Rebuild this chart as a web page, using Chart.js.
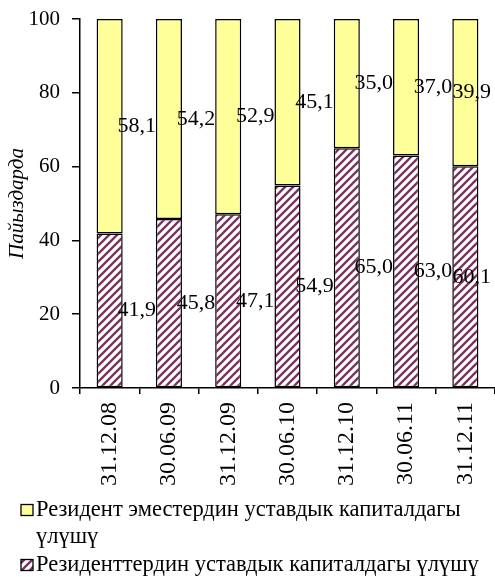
<!DOCTYPE html>
<html>
<head>
<meta charset="utf-8">
<script src="https://cdn.jsdelivr.net/npm/chart.js@4.4.1/dist/chart.umd.min.js"></script>
<style>
  html,body{margin:0;padding:0;background:#fff;}
  #wrap{width:495px;height:577px;position:relative;}
</style>
</head>
<body>
<div id="wrap"><canvas id="chart"></canvas></div>
<script>
// даты отчетов
const categories = ['31.12.08','30.06.09','31.12.09','30.06.10','31.12.10','30.06.11','31.12.11'];
// доля резидентов, %
const residents = [41.9, 45.8, 47.1, 54.9, 65.0, 63.0, 60.1];
// доля нерезидентов, %
const nonResidents = [58.1, 54.2, 52.9, 45.1, 35.0, 37.0, 39.9];
const yTicks = [0, 20, 40, 60, 80, 100];

const FONT = '"Liberation Serif", "Times New Roman", serif';

function makeHatch(){
  const c = document.createElement('canvas');
  c.width = 8; c.height = 8;
  const g = c.getContext('2d');
  g.fillStyle = '#fff';
  g.fillRect(0,0,8,8);
  g.strokeStyle = '#7f3060';
  g.lineWidth = 2.3;
  g.beginPath();
  g.moveTo(-4,4); g.lineTo(4,-4);
  g.moveTo(0,8); g.lineTo(8,0);
  g.moveTo(4,12); g.lineTo(12,4);
  g.stroke();
  return g.createPattern(c,'repeat');
}

const fmt = v => v.toFixed(1).replace('.', ',');

// подписи значений справа от центра столбика
const valueLabels = {
  id:'valueLabels',
  afterDatasetsDraw(chart){
    const ctx = chart.ctx;
    ctx.save();
    ctx.font = '22px ' + FONT;
    ctx.fillStyle = '#000';
    ctx.textAlign = 'center';
    ctx.textBaseline = 'middle';
    chart.data.datasets.forEach((ds,i)=>{
      chart.getDatasetMeta(i).data.forEach((el,j)=>{
        const txt = fmt(ds.data[j]);
        const w = ctx.measureText(txt).width;
        let x = el.x + 27;
        if(x + w/2 > chart.width - 4) x = chart.width - 4 - w/2;
        ctx.fillText(txt, x, (el.y + el.base)/2);
      });
    });
    ctx.restore();
  }
};

// легенда внизу, с переносом длинных строк
const bottomLegend = {
  id:'bottomLegend',
  afterDraw(chart){
    const ctx = chart.ctx;
    ctx.save();
    ctx.font = '22.5px ' + FONT;
    ctx.textBaseline = 'middle';
    const maxW = chart.width - 36 - 4;
    let y = 510;
    chart.data.datasets.slice().reverse().forEach(ds=>{
      ctx.fillStyle = ds.backgroundColor;
      ctx.fillRect(21, y-5.5, 12, 11);
      ctx.strokeStyle = '#000';
      ctx.lineWidth = 1.3;
      ctx.strokeRect(21, y-5.5, 12, 11);
      const words = ds.label.split(' ');
      const lines = [];
      let line = '';
      words.forEach(w=>{
        const t = line ? line + ' ' + w : w;
        if(ctx.measureText(t).width > maxW && line){ lines.push(line); line = w; }
        else line = t;
      });
      lines.push(line);
      ctx.fillStyle = '#000';
      lines.forEach((l,k)=>{
        ctx.fillText(l, 36, y + k*27);
      });
      y += lines.length*27 + 1;
    });
    ctx.restore();
  }
};

const hatch = makeHatch();

new Chart(document.getElementById('chart'),{
  type:'bar',
  data:{
    labels:categories,
    datasets:[
      {label:'Резиденттердин уставдык капиталдагы үлүшү',data:residents,backgroundColor:hatch,borderColor:'#000',borderWidth:1.5,borderSkipped:false,barPercentage:0.44,categoryPercentage:1},
      {label:'Резидент эместердин уставдык капиталдагы үлүшү',data:nonResidents,backgroundColor:'#ffff99',borderColor:'#000',borderWidth:1.5,borderSkipped:false,barPercentage:0.44,categoryPercentage:1}
    ]
  },
  options:{
    responsive:true,
    maintainAspectRatio:false,
    animation:false,
    layout:{padding:{top:19,right:0,bottom:82,left:0}},
    plugins:{legend:{display:false},tooltip:{enabled:false}},
    scales:{
      x:{
        stacked:true,
        grid:{display:true,drawOnChartArea:false,offset:true,tickLength:6,color:'#000',lineWidth:1.5},
        border:{display:true,color:'#000',width:1.5},
        ticks:{color:'#000',font:{family:FONT,size:24},minRotation:90,maxRotation:90,padding:8,autoSkip:false},
        afterFit:s=>{s.height = 577 - 82 - 388; s.paddingRight = 0; s.paddingLeft = 0;}
      },
      y:{
        stacked:true,
        min:0,max:100,
        afterBuildTicks:s=>{s.ticks = yTicks.map(v=>({value:v}));},
        grid:{display:true,drawOnChartArea:false,tickLength:8,color:'#000',lineWidth:1.5},
        border:{display:true,color:'#000',width:1.5},
        ticks:{color:'#000',font:{family:FONT,size:21},padding:12},
        title:{display:true,text:'Пайыздарда',color:'#000',font:{family:FONT,size:21,style:'italic'},padding:{top:5,bottom:0}},
        afterFit:s=>{s.width = 80; s.paddingTop = 0; s.paddingBottom = 0;}
      }
    }
  },
  plugins:[valueLabels,bottomLegend]
});
</script>
</body>
</html>
